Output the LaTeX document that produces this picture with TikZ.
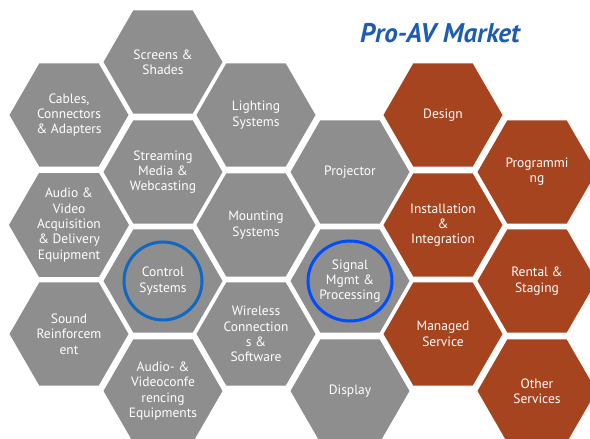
\documentclass[tikz,border=0pt]{standalone}
\usepackage{fontspec}
\setmainfont{PT Sans}
\usetikzlibrary{shapes.geometric}

\definecolor{hexgray}{RGB}{142,142,142}
\definecolor{hexrust}{RGB}{166,68,32}
\definecolor{ringblue}{RGB}{14,104,196}
\definecolor{titleblue}{RGB}{30,92,176}

\tikzset{
  hexbase/.style = {regular polygon, regular polygon sides=6, minimum size=119pt,
    inner sep=0pt, text=white, align=center, font=\fontsize{13.5}{15.3}\selectfont},
  hexgr/.style = {hexbase, fill=hexgray},
  hexor/.style = {hexbase, fill=hexrust},
  ring/.style = {circle, draw=ringblue, line width=3pt, inner sep=0pt}
}

\begin{document}
\begin{tikzpicture}[x=1pt, y=-1pt]
                \useasboundingbox (0,0) rectangle (590,439);
                % gray market hexagons
                \node[hexgr] (cables) at (69,115) {Cables,\\Connectors\\\& Adapters};
                \node[hexgr] (acq) at (69,225) {Audio \&\\Video\\Acquisition\\\& Delivery\\Equipment};
                \node[hexgr] (sound) at (69,334) {Sound\\Reinforcem\\ent};
                \node[hexgr] (screens) at (163,62) {Screens \&\\Shades};
                \node[hexgr] (stream) at (163,172) {Streaming\\Media \&\\Webcasting};
                \node[hexgr] (ctrl) at (163,281) {Control\\Systems};
                \node[hexgr] (conf) at (163,391) {Audio- \&\\Videoconfe\\rencing\\Equipments};
                \node[hexgr] (light) at (256,115) {Lighting\\Systems};
                \node[hexgr] (mount) at (256,225) {Mounting\\Systems};
                \node[hexgr] (wireless) at (256,334) {Wireless\\Connection\\s \&\\Software};
                \node[hexgr] (proj) at (350,172) {Projector};
                \node[hexgr] (sig) at (350,281) {Signal\\Mgmt \&\\Processing};
                \node[hexgr] (display) at (350,391) {Display};
                % service hexagons
                \node[hexor] (design) at (443,115) {Design};
                \node[hexor] (install) at (443,225) {Installation\\\&\\Integration};
                \node[hexor] (managed) at (443,334) {Managed\\Service};
                \node[hexor] (prog) at (537,172) {Programmi\\ng};
                \node[hexor] (rental) at (537,281) {Rental \&\\Staging};
                \node[hexor] (other) at (537,391) {Other\\Services};
                % highlights
                \node[ring, minimum size=78pt] (ctrlring) at (ctrl) {};
                \node[ring, minimum width=84pt, minimum height=80pt, ellipse, draw=blue!70!cyan] (sigring) at (sig) {};
                \node[text=titleblue, font=\fontsize{27}{30}\selectfont\bfseries\itshape] (title) at (440,33) {Pro-AV Market};
\end{tikzpicture}
\end{document}
